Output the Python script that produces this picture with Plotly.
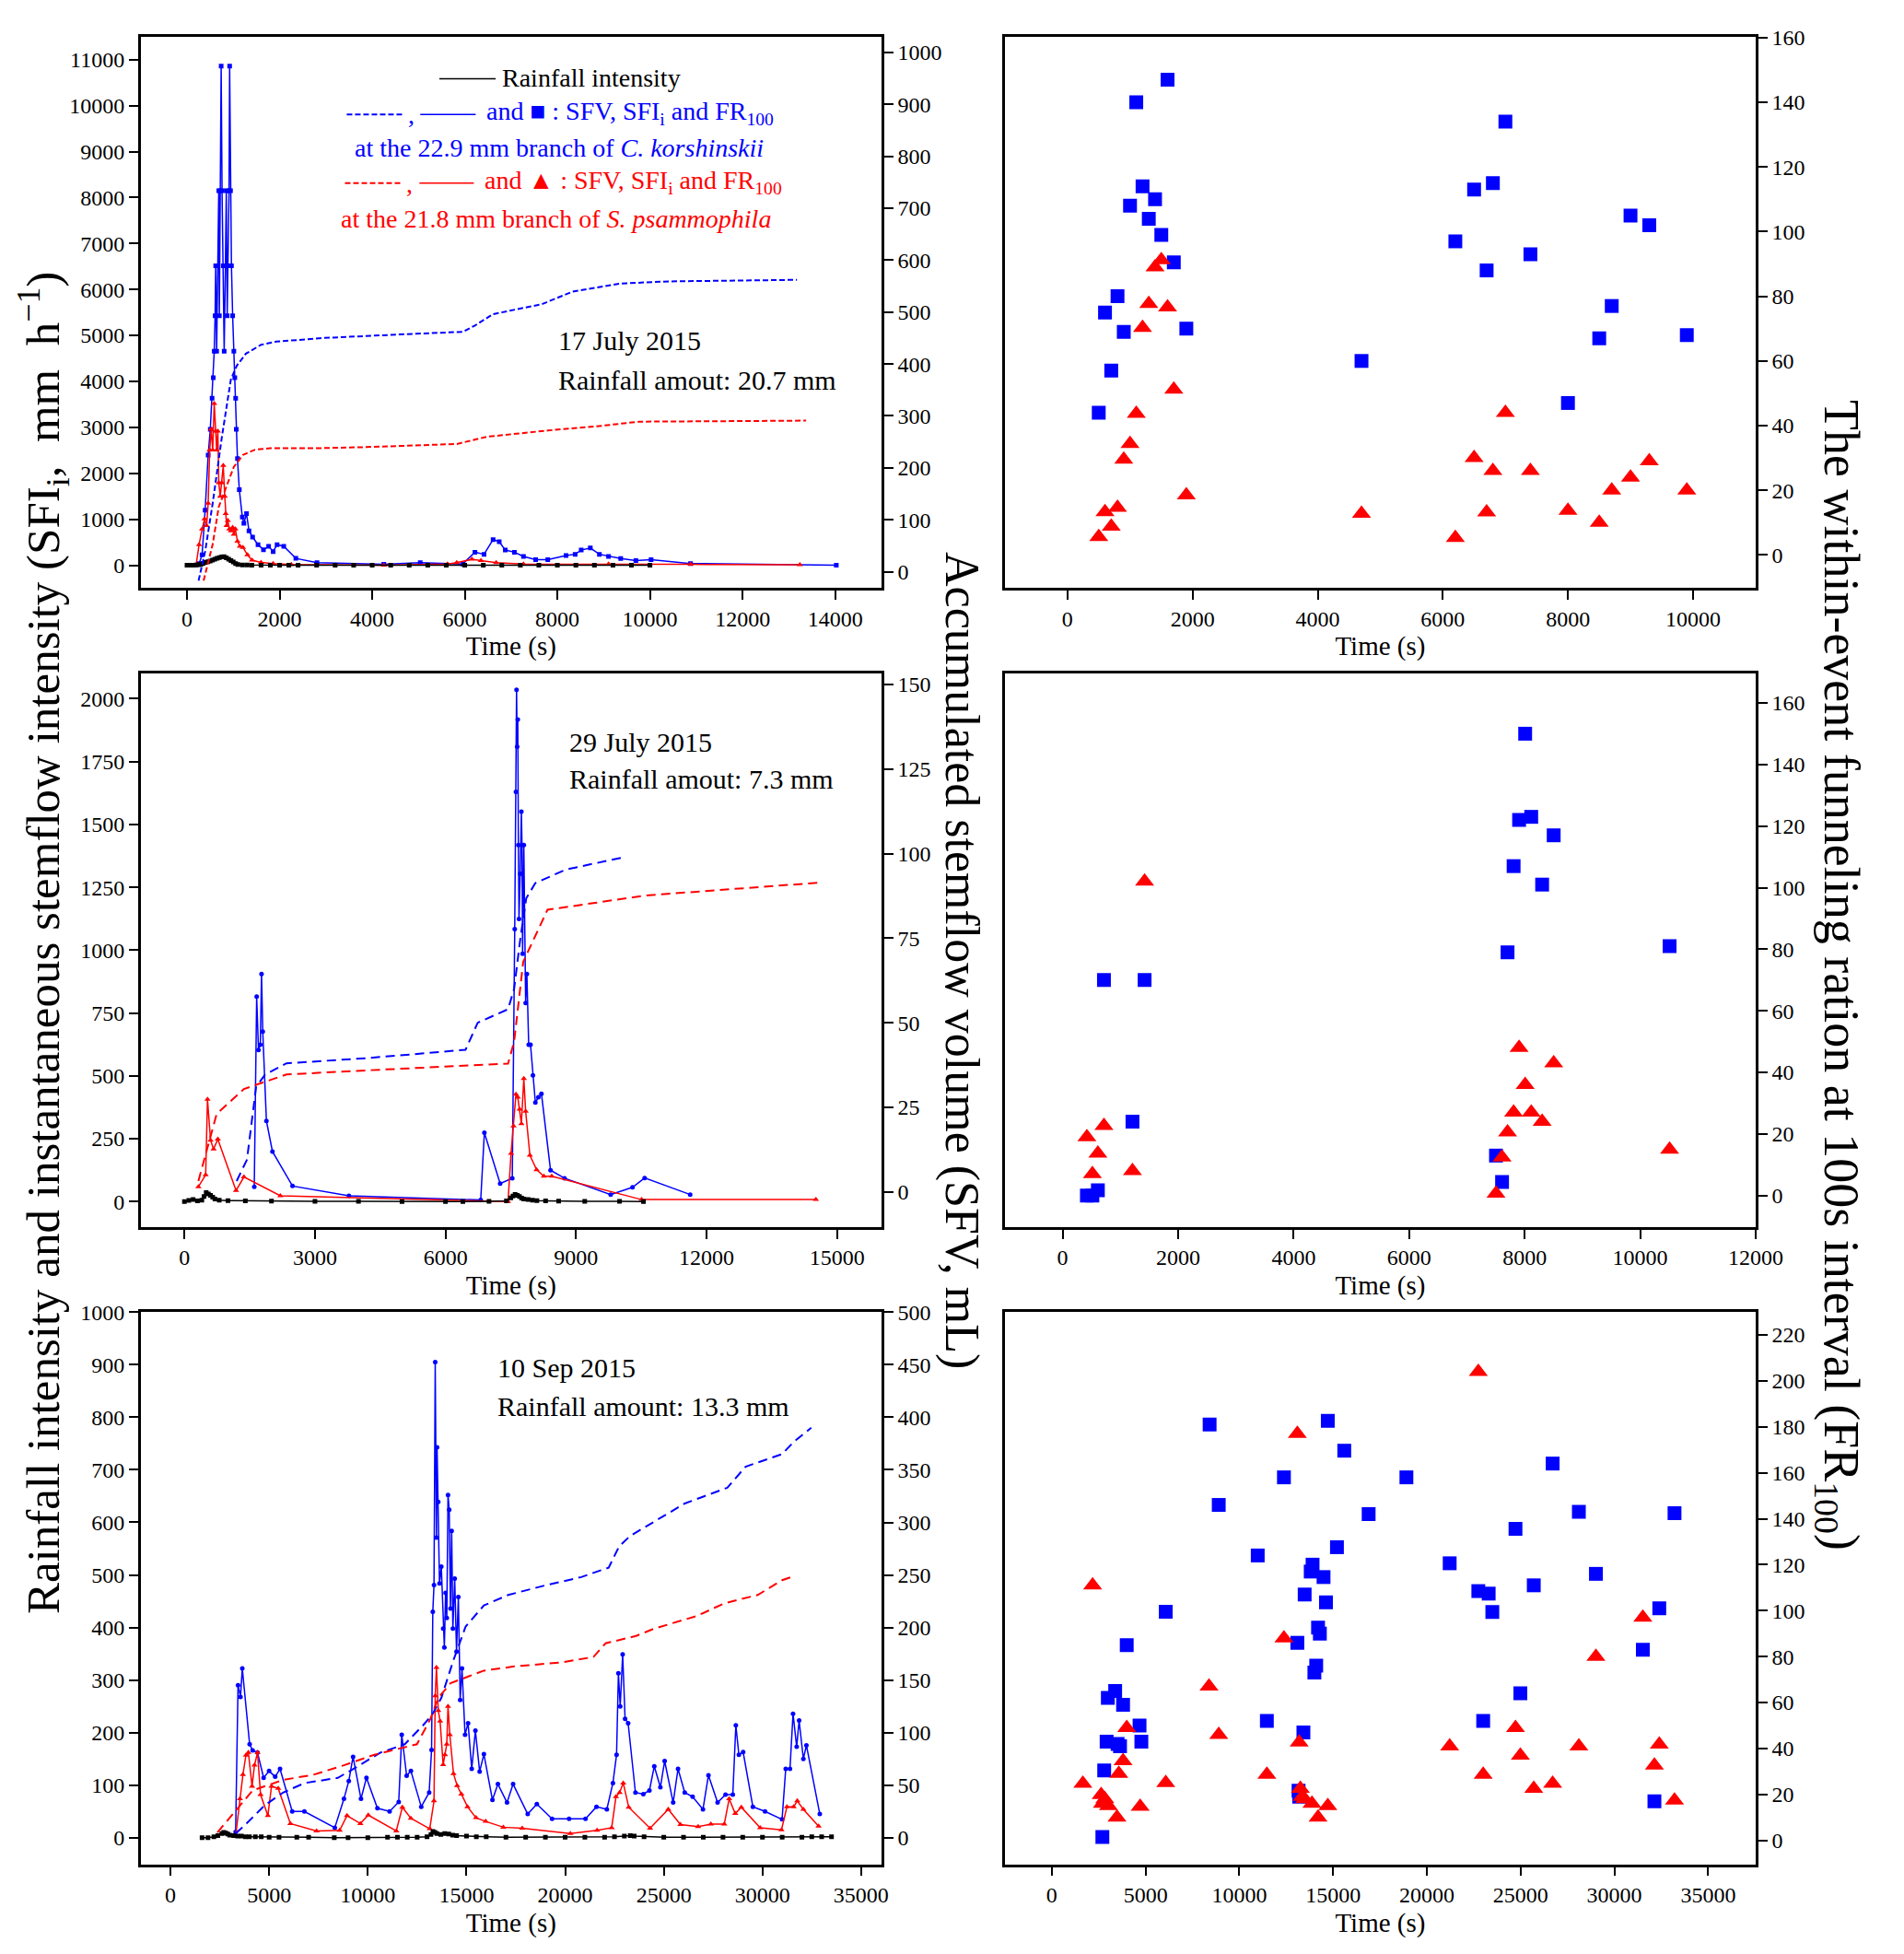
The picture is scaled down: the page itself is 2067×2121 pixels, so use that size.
import plotly.graph_objects as go

W, H = 2067, 2121
BLUE = 'rgb(0,0,255)'
RED = 'rgb(255,0,0)'
FONT = 'Liberation Serif'

# ---------------- 17 July 2015 ----------------
jul17_rain_t = [0, 50, 100, 150, 200, 250, 300, 350, 400, 450, 500, 550, 600, 650, 700, 750, 800,
                850, 900, 950, 1000, 1050, 1100, 1200, 1300, 1400, 1600, 1800, 2000, 2200, 2400,
                2800, 3200, 3600, 4000, 4400, 4800, 5200, 5600, 6000, 6400, 6800, 7200, 7600,
                8000, 8400, 8800, 9200, 9600, 10000]
jul17_rain = [0, 0, 0, 0, 5, 10, 20, 40, 60, 73, 90, 110, 130, 150, 165, 180, 186, 160, 130, 100,
              70, 37, 15, 5, 3, 2, 1, 1, 0, 0, 0, 0, 0, 0, 0, 0, 0, 0, 0, 0, 0, 0, 0, 0, 0, 0, 0,
              0, 0, 0]

jul17_ck_t = [261, 326, 392, 457, 503, 542, 568, 588, 607, 620, 640, 666, 686, 699, 718, 738, 757,
              783, 803, 829, 849, 868, 888, 908, 921, 940, 960, 986, 1012, 1032, 1051, 1064,
              1090, 1130, 1195, 1228, 1286, 1339, 1417, 1534, 1652, 1763, 1861, 1946, 2090,
              2351, 2808, 4251, 5038, 5956, 6219, 6416, 6612, 6744, 6875, 7072, 7268, 7531,
              7793, 8187, 8384, 8515, 8712, 8908, 9105, 9368, 9696, 10024, 10876, 14025]
jul17_ck_sfi = [36, 223, 1197, 2395, 2957, 3631, 4080, 4657, 5428, 6514, 4657, 6514, 8147, 5428,
                8147, 10859, 8147, 6514, 4657, 6514, 8147, 5428, 6514, 8147, 10859, 8147, 6514,
                5428, 4657, 4080, 3631, 2957, 2320, 1645, 1047, 912, 1121, 747, 612, 448, 335,
                410, 298, 448, 410, 148, 55, 18, 55, 27, 283, 238, 558, 512, 329, 283, 192, 119,
                119, 210, 238, 329, 375, 238, 192, 146, 101, 119, 37, 0]

jul17_sp_t = [196, 261, 326, 379, 424, 457, 490, 522, 555, 588, 620, 640, 666, 686, 718, 751, 783,
              816, 836, 855, 881, 914, 947, 986, 1012, 1045, 1090, 1143, 1208, 1306, 1404, 1600,
              1861, 2253, 4251, 5628, 5825, 6153, 6350, 6678, 7268, 9105, 10876, 13238]
jul17_sp_sfi = [0, 448, 785, 1009, 860, 1346, 2507, 2957, 2507, 3518, 2919, 2507, 2919, 1796,
                1496, 1796, 2170, 1496, 1122, 860, 972, 785, 747, 822, 672, 785, 523, 410, 388,
                223, 111, 59, 36, 14, 0, 27, 55, 128, 100, 55, 27, 27, 18, 9]

jul17_ck_vt = [250, 392, 555, 751, 947, 1077, 1273, 1600, 1926, 2940, 4380, 5960, 6220, 6610,
               7660, 8320, 9370, 10420, 13175]
jul17_ck_sfv = [-17, 39, 132, 258, 370, 397, 420, 437, 443, 450, 456, 462, 474, 496, 515, 539,
                555, 559, 562]
jul17_sp_vt = [359, 555, 686, 849, 1012, 1208, 1469, 1796, 2840, 3860, 5830, 6480, 7795, 8846,
               9764, 11732, 13373]
jul17_sp_sfv = [-17, 53, 125, 165, 202, 225, 235, 238, 238, 240, 246, 260, 272, 280, 289, 290,
                291]

jul17_fr_t = [500, 600, 700, 800, 900, 1000, 1100, 1200, 1300, 1400, 1500, 1600, 1700, 1900,
              4700, 6200, 6500, 6700, 6800, 7000, 7400, 8000, 8500, 8700, 9000, 9300, 9900]
jul17_ck_fr = [44, 75, 57, 80, 69, 108, 140, 114, 104, 110, 99, 147, 90.5, 70, 60, 97, 113, 88,
               115, 134, 93, 47, 67, 77, 105, 102, 68]
jul17_sp_fr = [5.6, 13.3, 8.8, 14.6, 29.5, 34.4, 43.7, 70.3, 77.7, 89, 91.2, 76.6, 51.2, 18.5,
               12.8, 5.3, 30, 13.2, 26, 44, 26, 13.7, 10, 20, 24, 29, 20]

# ---------------- 29 July 2015 ----------------
jul29_rain_t = [0, 100, 200, 300, 400, 450, 500, 550, 600, 650, 700, 800, 1000, 1400, 2000, 3000,
                4000, 5000, 6000, 6400, 7000, 7400, 7500, 7550, 7600, 7650, 7700, 7750, 7800,
                7900, 8000, 8100, 8300, 8600, 9200, 10000, 10550]
jul29_rain = [0, 5, 8, 3, 6, 20, 36, 30, 25, 18, 10, 6, 4, 3, 2, 1, 1, 0, 0, 0, 1, 3, 15, 22, 29,
              25, 20, 14, 10, 8, 6, 4, 3, 2, 1, 1, 0]

jul29_ck_t = [1605, 1660, 1702, 1744, 1772, 1800, 1884, 2023, 2484, 3781, 6809, 6893, 7256, 7535,
              7591, 7619, 7633, 7647, 7661, 7675, 7689, 7717, 7744, 7758, 7772, 7800, 7842,
              7870, 7912, 7954, 8009, 8065, 8135, 8205, 8414, 8735, 9795, 10298, 10577, 11623]
jul29_ck_sfi = [59, 815, 603, 624, 905, 676, 321, 199, 62, 23, 6.5, 274, 72, 93, 1084, 1630, 2035,
                1809, 1917, 1418, 1124, 1304, 1551, 1418, 986, 1418, 790, 905, 624, 624, 502, 394,
                415, 429, 125, 93, 28, 57, 94, 28]

jul29_sp_t = [321, 488, 530, 600, 670, 767, 1186, 1367, 2205, 7437, 7507, 7563, 7619, 7661, 7703,
              7744, 7800, 7842, 7940, 8093, 8260, 8442, 10507, 14512]
jul29_sp_sfi = [59, 106, 407, 244, 209, 248, 44, 98, 23, 0, 192, 301, 427, 415, 367, 310, 489,
                359, 184, 127, 101, 101, 8, 8]

jul29_ck_vt = [1200, 1437, 1647, 1856, 2344, 4158, 6460, 6740, 7437, 7577, 7717, 7856, 8065,
               8763, 10088]
jul29_ck_sfv = [3.2, 9.5, 31, 34.7, 38, 39.5, 42, 50, 54, 60, 74.6, 86.8, 91.3, 95.3, 98.9]
jul29_sp_vt = [321, 740, 1367, 2344, 4158, 7437, 7577, 7786, 8344, 10577, 14554]
jul29_sp_sfv = [3.2, 23, 30.4, 34.7, 35.9, 37.9, 44.4, 68, 83.4, 87.6, 91.4]

jul29_fr_t = [420, 515, 610, 715, 1209, 1419, 7504, 7609, 7704, 7809, 7904, 8009, 8114, 8303,
              8503, 10510]
jul29_ck_fr = [0, 0, 1.7, 70, 24, 70, 13, 4.4, 79, 107, 122, 150, 123, 101, 117, 81]
jul29_sp_fr = [19, 7, 13.7, 22.7, 8, 102, 0.7, 12.4, 20.6, 27, 48, 36, 27, 24, 43, 15]

# ---------------- 10 Sep 2015 ----------------
sep10_rain_t = [1600, 1900, 2200, 2400, 2600, 2700, 2800, 2900, 3000, 3200, 3400, 3600, 3800,
                4000, 4300, 4600, 5000, 5500, 6400, 7000, 8300, 9000, 10000, 11000, 11500, 12000,
                12500, 13000, 13200, 13300, 13400, 13500, 13700, 13900, 14100, 14300, 14500,
                15000, 15500, 16000, 17000, 18000, 19000, 20000, 21000, 22000, 22500, 23000,
                23300, 23500, 24000, 25000, 26000, 27000, 28000, 29000, 30000, 31000, 32000,
                32500, 33000, 33500]
sep10_rain = [0, 0, 2, 4, 8, 10, 9, 7, 5, 4, 3, 3, 2, 2, 2, 2, 1, 1, 1, 1, 0, 0, 0, 1, 1, 1, 1,
              2, 6, 12, 10, 8, 6, 8, 7, 5, 4, 3, 2, 2, 1, 1, 1, 1, 1, 1, 2, 3, 4, 3, 2, 1, 1, 1,
              1, 1, 1, 1, 1, 2, 2, 2]

sep10_ck_t = [3300, 3423, 3547, 3639, 4010, 4164, 4410, 4719, 4996, 5305, 5551, 6168, 6785, 8327,
              8790, 9036, 9252, 9653, 9931, 10486, 11103, 11566, 11720, 11967, 12183, 12707,
              13108, 13231, 13293, 13354, 13416, 13478, 13509, 13570, 13632, 13725, 13817,
              13879, 13940, 14002, 14064, 14125, 14187, 14249, 14310, 14403, 14495, 14588,
              14680, 14773, 14927, 15081, 15266, 15451, 15667, 15883, 16315, 16592, 17055,
              17363, 18103, 18566, 19337, 20200, 21033, 21589, 22113, 22421, 22606, 22699,
              22791, 22915, 23038, 23192, 23562, 23963, 24272, 24518, 24827, 25043, 25474,
              25721, 26060, 26461, 26985, 27263, 27726, 28127, 28497, 28651, 28805, 29021,
              29514, 30131, 30994, 31179, 31395, 31549, 31734, 31857, 32073, 32227, 32906]
sep10_ck_sfi = [11, 290, 268, 322, 178, 166, 162, 114, 127, 116, 131, 50, 50, 19, 74, 108, 154,
                74, 114, 56, 50, 68, 196, 118, 127, 59, 86, 167, 430, 481, 905, 571, 743, 639,
                484, 516, 398, 362, 466, 418, 652, 624, 436, 584, 398, 493, 354, 458, 262, 322,
                196, 218, 131, 204, 126, 159, 72, 102, 67, 102, 45, 64, 36, 36, 36, 59, 54, 104,
                158, 313, 250, 349, 226, 218, 86, 83, 90, 136, 96, 146, 67, 131, 86, 78, 54, 119,
                67, 82, 82, 214, 158, 163, 59, 50, 35, 131, 131, 236, 173, 223, 150, 176, 45]

sep10_sp_t = [3300, 3516, 3670, 3824, 3948, 4133, 4256, 4410, 4564, 4934, 5119, 5459, 6076, 7402,
              8573, 8944, 9622, 10023, 11442, 11750, 12182, 13138, 13354, 13416, 13478, 13570,
              13663, 13817, 13909, 14002, 14064, 14156, 14341, 14526, 14742, 15050, 15482,
              15975, 16870, 17826, 20262, 21619, 22359, 22575, 22760, 22945, 23223, 24302,
              25227, 25844, 26738, 27386, 28065, 28312, 28620, 28929, 29885, 30964, 31241,
              31580, 31765, 32073, 32844]
sep10_sp_sfi = [3, 74, 120, 157, 162, 98, 138, 162, 82, 42, 98, 94, 27, 13, 14, 42, 27, 43, 13,
                58, 37, 17, 70, 270, 324, 242, 222, 139, 158, 178, 250, 196, 122, 99, 83, 59, 38,
                31, 20, 18, 8, 14, 19, 78, 86, 104, 58, 18, 54, 25, 21, 26, 26, 74, 46, 58, 19,
                15, 59, 59, 70, 54, 22]

sep10_ck_vt = [3300, 3855, 4780, 5705, 6785, 8481, 9406, 10640, 11874, 12800, 13262, 13724,
               14341, 14958, 15883, 17117, 18967, 20818, 22206, 22730, 23285, 24518, 26060,
               28219, 29144, 30994, 31611, 32475]
sep10_ck_sfv = [4, 13.6, 31, 43, 52, 57, 67, 81, 89, 107, 117, 133, 169, 201, 221, 231, 240, 248,
                257, 277, 287, 301, 318, 333, 353, 365, 377, 390]
sep10_sp_vt = [2375, 3084, 4164, 5705, 7247, 8790, 10332, 12491, 13170, 13570, 14187, 15883,
               17425, 19892, 21434, 22051, 23593, 24518, 26677, 28065, 29761, 30994, 31611]
sep10_sp_sfv = [5, 21, 45, 55, 60, 69, 79, 89, 113, 133, 147, 159, 163, 167, 172, 185, 192, 199,
                211, 223, 231, 245, 249]

sep10_ck_fr_t = [2697, 2794, 2924, 2989, 3379, 3509, 3639, 3801, 3996, 4679, 4776, 6076, 8415,
                 8902, 10981, 11468, 12378, 13093, 13417, 13158, 13191, 13483, 13807, 13905,
                 14002, 14099, 14197, 14294, 14490, 14620, 14717, 15205, 15595, 16895, 18909,
                 21216, 22743, 23003, 23295, 23490, 24725, 24985, 25700, 26707, 28104, 29014,
                 31516, 32133, 32393, 33205]
sep10_ck_fr = [1.5, 30.4, 43, 62, 65, 42, 41, 59, 85, 50, 43, 99.5, 181, 146, 124, 52, 158, 86,
               47, 21.6, 19, 107, 117, 120, 73, 76, 92.6, 90, 114.6, 103.6, 182.6, 127.6, 169.6,
               142, 158, 120.6, 108.5, 52, 107.4, 99.4, 135.6, 64, 111, 164, 143, 116, 83, 17,
               101, 142.4]
sep10_sp_fr_t = [1657, 2177, 2632, 2697, 2827, 3022, 3477, 3574, 3801, 3996, 4711, 6076, 8383,
                 8902, 11468, 12378, 13093, 13191, 13256, 13353, 13483, 13873, 14197, 14717,
                 21216, 22743, 23003, 24725, 24985, 25700, 26707, 28104, 29014, 31516, 32133,
                 32393, 33205]
sep10_sp_fr = [24.7, 111, 19.8, 16, 18, 15, 10, 29, 34.5, 49, 14.7, 25, 67, 46, 28.6, 88, 177,
               42.7, 22.5, 19, 18, 16, 10, 15, 41, 204, 28.6, 49, 37, 22.5, 24.7, 41, 80, 97,
               32.6, 41.8, 17.4]


def px(x):
    return x / W


def py(y):
    return 1 - y / H


XL = [px(155), px(971)]
XR = [px(1107), px(1934)]
YT = [py(629), py(27)]
YM = [py(1327), py(722)]
YB = [py(2023), py(1420)]

tickfont = dict(family=FONT, size=24, color='black')
titlefont = dict(family=FONT, size=29, color='black')


def xax(domain, anchor, rng, dtick):
    return dict(domain=domain, anchor=anchor, range=rng, dtick=dtick, tick0=0, tickformat='d',
                showline=True, linecolor='black', linewidth=2.5, mirror=True,
                ticks='outside', ticklen=10, tickwidth=2, tickcolor='black',
                showgrid=False, zeroline=False, tickfont=tickfont,
                title=dict(text='Time (s)', font=titlefont, standoff=8))


def yax(domain, anchor, rng, dtick, side='left', overlay=None, mirror=False):
    d = dict(domain=domain, anchor=anchor, range=rng, dtick=dtick, tick0=0, side=side,
             tickformat='d', showline=True, linecolor='black', linewidth=2.5, mirror=mirror,
             ticks='outside', ticklen=10, tickwidth=2, tickcolor='black',
             showgrid=False, zeroline=False, tickfont=tickfont)
    if overlay:
        d['overlaying'] = overlay
    return d


fig = go.Figure()


def line(x, y, color, xa, ya, symbol=None, dash=None, msize=5, width=1.5):
    mode = 'lines+markers' if symbol else 'lines'
    fig.add_trace(go.Scatter(x=x, y=y, mode=mode, xaxis=xa, yaxis=ya,
                             line=dict(color=color, width=width, dash=dash),
                             marker=dict(symbol=symbol, size=msize, color=color)))


def pts(x, y, color, xa, ya, symbol, size):
    fig.add_trace(go.Scatter(x=x, y=y, mode='markers', xaxis=xa, yaxis=ya,
                             marker=dict(symbol=symbol, size=size, color=color)))


# top row
line(jul17_ck_vt, jul17_ck_sfv, BLUE, 'x', 'y2', dash='6px,3px', width=2)
line(jul17_sp_vt, jul17_sp_sfv, RED, 'x', 'y2', dash='6px,3px', width=2)
line(jul17_ck_t, jul17_ck_sfi, BLUE, 'x', 'y', symbol='square', msize=5)
line(jul17_sp_t, jul17_sp_sfi, RED, 'x', 'y', symbol='triangle-up', msize=6)
line(jul17_rain_t, jul17_rain, 'black', 'x', 'y', symbol='square', msize=5)
pts(jul17_fr_t, jul17_ck_fr, BLUE, 'x2', 'y3', 'square', 15)
pts(jul17_fr_t, jul17_sp_fr, RED, 'x2', 'y3', 'triangle-up', 18)

# middle row
line(jul29_ck_vt, jul29_ck_sfv, BLUE, 'x3', 'y5', dash='10px,6px', width=2)
line(jul29_sp_vt, jul29_sp_sfv, RED, 'x3', 'y5', dash='10px,6px', width=2)
line(jul29_ck_t, jul29_ck_sfi, BLUE, 'x3', 'y4', symbol='circle', msize=5)
line(jul29_sp_t, jul29_sp_sfi, RED, 'x3', 'y4', symbol='triangle-up', msize=6)
line(jul29_rain_t, jul29_rain, 'black', 'x3', 'y4', symbol='square', msize=5)
pts(jul29_fr_t, jul29_ck_fr, BLUE, 'x4', 'y6', 'square', 15)
pts(jul29_fr_t, jul29_sp_fr, RED, 'x4', 'y6', 'triangle-up', 18)

# bottom row
line(sep10_ck_vt, sep10_ck_sfv, BLUE, 'x5', 'y8', dash='10px,6px', width=2)
line(sep10_sp_vt, sep10_sp_sfv, RED, 'x5', 'y8', dash='10px,6px', width=2)
line(sep10_ck_t, sep10_ck_sfi, BLUE, 'x5', 'y7', symbol='circle', msize=5)
line(sep10_sp_t, sep10_sp_sfi, RED, 'x5', 'y7', symbol='triangle-up', msize=6)
line(sep10_rain_t, sep10_rain, 'black', 'x5', 'y7', symbol='square', msize=5)
pts(sep10_ck_fr_t, sep10_ck_fr, BLUE, 'x6', 'y9', 'square', 15)
pts(sep10_sp_fr_t, sep10_sp_fr, RED, 'x6', 'y9', 'triangle-up', 18)

fig.update_layout(
    width=W, height=H, margin=dict(l=0, r=0, t=0, b=0),
    paper_bgcolor='white', plot_bgcolor='white', showlegend=False,
    font=dict(family=FONT, color='black'),
    xaxis=xax(XL, 'y', [-1000, 15000], 2000),
    yaxis=yax(YT, 'x', [-494, 11500], 1000),
    yaxis2=yax(YT, 'x', [-31, 1030], 100, side='right', overlay='y'),
    xaxis2=xax(XR, 'y3', [-1000, 11000], 2000),
    yaxis3=yax(YT, 'x2', [-10.2, 160.3], 20, side='right', mirror=True),
    xaxis3=xax(XL, 'y4', [-1005, 16019], 3000),
    yaxis4=yax(YM, 'x3', [-101, 2102], 250),
    yaxis5=yax(YM, 'x3', [-10.4, 153.4], 25, side='right', overlay='y4'),
    xaxis4=xax(XR, 'y6', [-1000, 12000], 2000),
    yaxis6=yax(YM, 'x4', [-10.2, 169.7], 20, side='right', mirror=True),
    xaxis5=xax(XL, 'y7', [-1510, 36030], 5000),
    yaxis7=yax(YB, 'x5', [-50.5, 1000], 100),
    yaxis8=yax(YB, 'x5', [-25.2, 500], 50, side='right', overlay='y7'),
    xaxis6=xax(XR, 'y9', [-2500, 37530], 5000),
    yaxis9=yax(YB, 'x6', [-10.4, 229.9], 20, side='right', mirror=True),
)

ann = []


def text(x, y, s, size=28, color='black', anchor='left', angle=0):
    ann.append(dict(x=px(x), y=py(y), xref='paper', yref='paper', text=s, showarrow=False,
                    xanchor=anchor, yanchor='middle', textangle=angle,
                    font=dict(family=FONT, size=size, color=color)))


# legend block
text(551, 72, 'Rainfall intensity')
text(534, 110, 'and \u25a0 : SFV, SFI<sub>i</sub> and FR<sub>100</sub>', color=BLUE)
text(616, 148, 'at the 22.9 mm branch of <i>C. korshinskii</i>', color=BLUE, anchor='center')
text(532, 186, 'and \u25b2 : SFV, SFI<sub>i</sub> and FR<sub>100</sub>', color=RED)
text(612, 226, 'at the 21.8 mm branch of <i>S. psammophila</i>', color=RED, anchor='center')
text(447, 112, ',', color=BLUE)
text(445, 188, ',', color=RED)

# event labels
text(613, 359, '17 July 2015', size=30)
text(613, 402, 'Rainfall amout: 20.7 mm', size=30)
text(625, 797, '29 July 2015', size=30)
text(625, 838, 'Rainfall amout: 7.3 mm', size=30)
text(546, 1481, '10 Sep 2015', size=30)
text(546, 1523, 'Rainfall amount: 13.3 mm', size=30)

# shared axis titles
text(47, 1017, 'Rainfall intensity and instantaneous stemflow intensity '
     '(SFI<sub>i</sub>,  mm  h<sup>\u22121</sup>)', size=51, anchor='center', angle=-90)
text(1060, 1036, 'Accumulated stemflow volume (SFV, mL)', size=52, anchor='center', angle=90)
text(2025, 1052, 'The within-event funneling ration at 100s interval (FR<sub>100</sub>)',
     size=54, anchor='center', angle=90)

fig.update_layout(annotations=ann)

shapes = [
    dict(type='line', xref='paper', yref='paper', x0=px(484), x1=px(546), y0=py(73), y1=py(73),
         line=dict(color='black', width=1.5)),
    dict(type='line', xref='paper', yref='paper', x0=px(382), x1=px(445), y0=py(112), y1=py(112),
         line=dict(color=BLUE, width=2, dash='6px,3px')),
    dict(type='line', xref='paper', yref='paper', x0=px(463), x1=px(524), y0=py(112), y1=py(112),
         line=dict(color=BLUE, width=1.5)),
    dict(type='line', xref='paper', yref='paper', x0=px(380), x1=px(442), y0=py(187), y1=py(187),
         line=dict(color=RED, width=2, dash='6px,3px')),
    dict(type='line', xref='paper', yref='paper', x0=px(462), x1=px(522), y0=py(187), y1=py(187),
         line=dict(color=RED, width=1.5)),
]
fig.update_layout(shapes=shapes)

fig.write_html("out.html", config={'displayModeBar': False},
               post_script="document.body.style.margin='0';")
